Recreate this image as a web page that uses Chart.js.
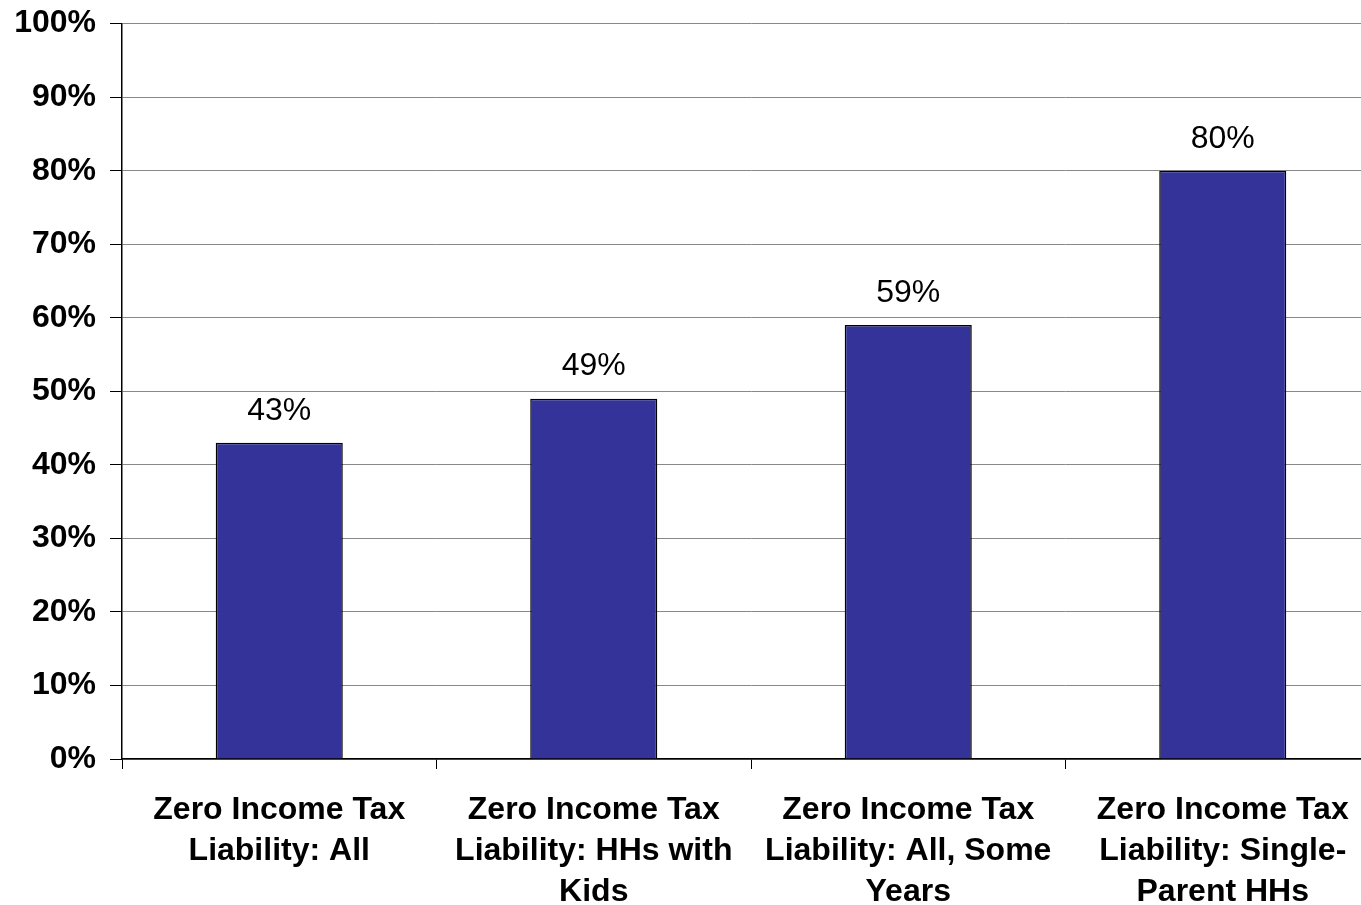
<!DOCTYPE html>
<html>
<head>
<meta charset="utf-8">
<script src="https://cdn.jsdelivr.net/npm/chart.js@4"></script>
<style>
  html, body { margin: 0; padding: 0; background: #fff; overflow: hidden; }
  #wrap { width: 1380px; height: 905px; }
</style>
</head>
<body>
<div id="wrap"><canvas id="zeroTaxChart"></canvas></div>
<script>
const categories = [
    ['Zero Income Tax', 'Liability: All'],
    ['Zero Income Tax', 'Liability: HHs with', 'Kids'],
    ['Zero Income Tax', 'Liability: All, Some', 'Years'],
    ['Zero Income Tax', 'Liability: Single-', 'Parent HHs']
];
const shares = [43, 49, 59, 80];
const yTicks = [0, 10, 20, 30, 40, 50, 60, 70, 80, 90, 100];

//  Value labels above each bar
const barLabels = {
    id: 'barLabels',
    afterDatasetsDraw(chart) {
        const ctx = chart.ctx;
        const meta = chart.getDatasetMeta(0);
        ctx.save();
        ctx.font = '32px "Liberation Sans", Arial, sans-serif';
        ctx.fillStyle = '#000';
        ctx.textAlign = 'center';
        ctx.textBaseline = 'middle';
        meta.data.forEach((bar, i) => {
            ctx.fillText(shares[i] + '%', bar.x, bar.y - 32);
        });
        ctx.restore();
    }
};

new Chart(document.getElementById('zeroTaxChart'), {
    type: 'bar',
    data: {
        labels: categories,
        datasets: [{
            data: shares,
            backgroundColor: '#333399',
            borderColor: '#000',
            borderWidth: 1.5,
            categoryPercentage: 1,
            barPercentage: 0.404
        }]
    },
    options: {
        responsive: true,
        maintainAspectRatio: false,
        animation: false,
        layout: { padding: { top: 0, right: 0, left: 0, bottom: 0 } },
        plugins: {
            legend: { display: false },
            tooltip: { enabled: false }
        },
        scales: {
            y: {
                min: 0,
                max: 100,
                afterBuildTicks: axis => { axis.ticks = yTicks.map(v => ({ value: v })); },
                afterFit: axis => { axis.width = 122; },
                ticks: {
                    callback: v => v + '%',
                    color: '#000',
                    padding: 14,
                    font: { family: '"Liberation Sans", Arial, sans-serif', size: 32, weight: 'bold', lineHeight: 0.6 }
                },
                grid: { color: '#888', lineWidth: 1, tickColor: '#000', tickLength: 12 },
                border: { color: '#000', width: 1.5 }
            },
            x: {
                afterFit: axis => { axis.height = 146; },
                ticks: {
                    color: '#000',
                    padding: 21,
                    maxRotation: 0,
                    autoSkip: false,
                    font: { family: '"Liberation Sans", Arial, sans-serif', size: 32, weight: 'bold', lineHeight: 1.28 }
                },
                grid: { drawOnChartArea: false, tickColor: '#000', tickLength: 10, offset: true },
                border: { color: '#000', width: 1.5 }
            }
        }
    },
    plugins: [barLabels]
});
</script>
</body>
</html>
